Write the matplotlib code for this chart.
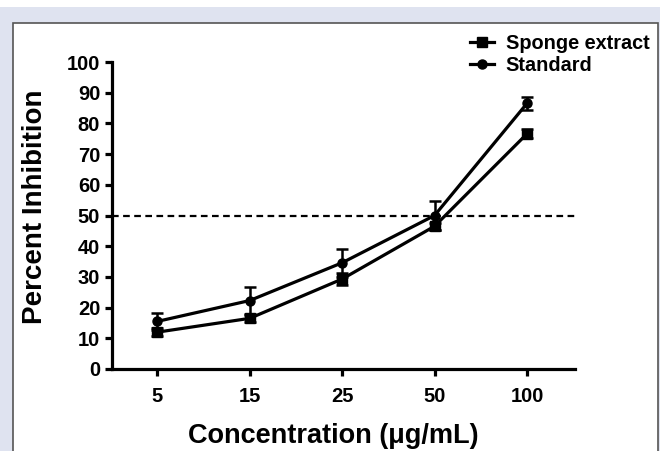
import matplotlib
matplotlib.use("Agg")
import matplotlib.pyplot as plt
from matplotlib.patches import Rectangle
from matplotlib.lines import Line2D

plt.rcParams['font.family'] = ['Liberation Sans', 'DejaVu Sans']
plt.rcParams['font.weight'] = 'bold'

concentrations = ['5', '15', '25', '50', '100']
sponge = [12.0, 16.5, 29.3, 46.5, 76.6]
sponge_err = [1.2, 1.2, 2.0, 1.2, 1.5]
standard = [15.5, 22.3, 34.6, 50.0, 86.5]
standard_err = [2.8, 4.5, 4.6, 4.8, 2.0]
threshold = 50

W, H = 660, 451
fig = plt.figure(figsize=(W / 100, H / 100), dpi=100)
fig.patch.set_facecolor('#dfe3f0')

# white strip on top and the white panel with border
fig.patches.append(Rectangle((0, 1 - 7 / H), 1, 7 / H, transform=fig.transFigure,
                             facecolor='white', edgecolor='none', zorder=-2))
fig.patches.append(Rectangle((13 / W, -0.05), (658 - 13) / W, (H - 23) / H + 0.05,
                             transform=fig.transFigure, facecolor='white',
                             edgecolor='#555555', linewidth=1.2, zorder=-2))

ax = fig.add_axes([112 / W, 1 - 369 / H, (575 - 112) / W, (369 - 62) / H])
ax.set_zorder(1)
ax.set_facecolor('none')
x = list(range(len(concentrations)))

ax.errorbar(x, sponge, yerr=sponge_err, color='black', marker='s', markersize=7,
            linewidth=2.3, capsize=4, elinewidth=1.8, capthick=1.8)
ax.errorbar(x, standard, yerr=standard_err, color='black', marker='o', markersize=6.5,
            linewidth=2.3, capsize=4, elinewidth=1.8, capthick=1.8)
ax.axhline(threshold, color='black', linestyle=(0, (3, 2)), linewidth=1.6)

ax.set_xlim(-0.49, 4.52)
ax.set_ylim(0, 100)
ax.set_xticks(x)
ax.set_xticklabels(concentrations)
ax.set_yticks(range(0, 101, 10))
for s in ['top', 'right']:
    ax.spines[s].set_visible(False)
for s in ['left', 'bottom']:
    ax.spines[s].set_linewidth(2.3)
ax.tick_params(width=2.3, length=5, labelsize=14.5)
ax.tick_params(axis='x', pad=8)
for lbl in ax.get_xticklabels() + ax.get_yticklabels():
    lbl.set_fontweight('bold')

ax.set_xlabel('Concentration (\u03bcg/mL)', fontsize=19.5, fontweight='bold')
ax.xaxis.set_label_coords(0.477, -0.175)
ax.set_ylabel('Percent Inhibition', fontsize=20, fontweight='bold')
ax.yaxis.set_label_coords(-0.138, 0.53)

handles = [Line2D([], [], color='black', marker='s', markersize=7, linewidth=2.3),
           Line2D([], [], color='black', marker='o', markersize=6.5, linewidth=2.3)]
leg = fig.legend(handles, ['Sponge extract', 'Standard'], loc='upper left',
                 bbox_to_anchor=(470 / W, 1 - 34 / H), frameon=False, fontsize=14.3,
                 handlelength=1.2, handletextpad=0.6, labelspacing=0.15,
                 borderpad=0, borderaxespad=0)
for t in leg.get_texts():
    t.set_fontweight('bold')

fig.savefig('out.png', dpi=100, facecolor=fig.get_facecolor())
